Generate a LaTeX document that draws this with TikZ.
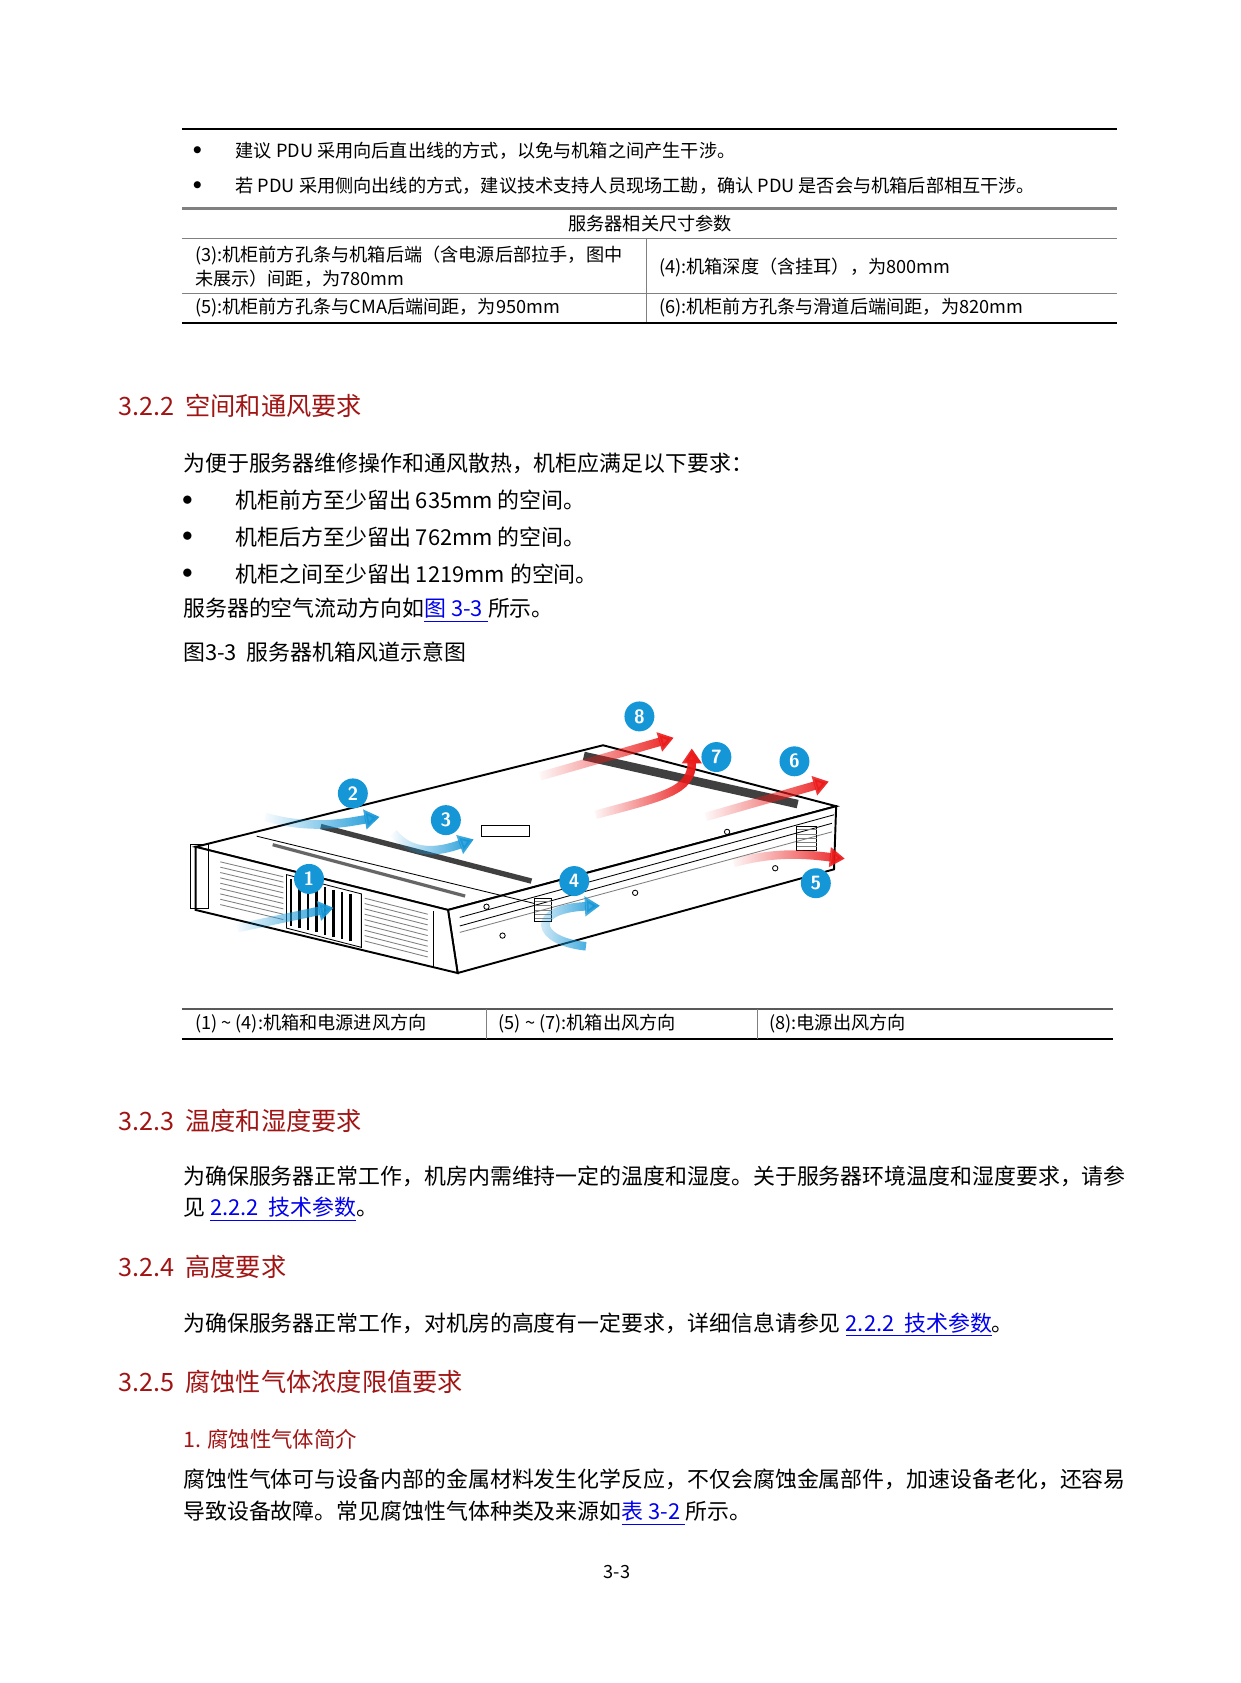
\documentclass[tikz,border=0pt]{standalone}
\usepackage{fontspec}
\setmainfont{Liberation Sans}
\newfontfamily\cjk{Noto Sans CJK SC}
\usetikzlibrary{fadings,arrows.meta,calc}
\definecolor{hred}{RGB}{160,20,20}
\definecolor{lblue}{RGB}{0,0,238}
\definecolor{cb}{RGB}{20,150,215}
\definecolor{ar}{RGB}{235,25,25}
\begin{document}
\begin{tikzpicture}[x=0.5pt,y=-0.5pt,
 t/.style={anchor=west,inner sep=0pt,yshift=-1.5pt,font=\cjk\fontsize{10.25}{12}\selectfont},
 ts/.style={anchor=west,inner sep=0pt,yshift=0.5pt,font=\cjk\fontsize{8.5}{10}\selectfont},
 hd/.style={anchor=west,inner sep=0pt,yshift=-1.5pt,text=hred,font=\cjk\fontsize{11.8}{13}\selectfont},
 num/.style={circle,fill=cb,inner sep=0pt,minimum size=14pt,text=white,font=\sffamily\bfseries\fontsize{9}{9}\selectfont},
 barr/.style={line width=4pt,cb,path fading=west,-{Triangle[length=7pt,width=9pt]}},
 rarr/.style={line width=4pt,ar,path fading=west,-{Triangle[length=7pt,width=9pt]}},
 vent/.style={line width=4pt,black!75}]
\useasboundingbox (0,0) rectangle (1160,1574);
% top table
\draw[line width=1pt] (170,121) -- (1045,121);
\node[ts] (b1) at (180,142) {$\bullet$};
\node[ts] (b1t) at (220,142) {建议 PDU 采用向后直出线的方式，以免与机箱之间产生干涉。};
\node[ts] (b2) at (180,175) {$\bullet$};
\node[ts] (b2t) at (220,175) {若 PDU 采用侧向出线的方式，建议技术支持人员现场工勘，确认 PDU 是否会与机箱后部相互干涉。};
\draw[gray,line width=1pt] (170,195) -- (1045,195);
\node[ts,anchor=center] (tt) at (608,210) {服务器相关尺寸参数};
\draw[gray] (170,223) -- (1045,223);
\draw[gray] (170,274) -- (1045,274);
\draw[gray] (605,223) -- (605,302);
\node[ts] (r1a) at (182,240) {(3):机柜前方孔条与机箱后端（含电源后部拉手，图中};
\node[ts] (r1b) at (182,262) {未展示）间距，为780mm};
\node[ts] (r1c) at (616,251) {(4):机箱深度（含挂耳），为800mm};
\node[ts] (r2a) at (182,289) {(5):机柜前方孔条与CMA后端间距，为950mm};
\node[ts] (r2b) at (616,289) {(6):机柜前方孔条与滑道后端间距，为820mm};
\draw[line width=1pt] (170,302) -- (1045,302);
% 3.2.2
\node[hd] (h1) at (110,377) {3.2.2\ \ 空间和通风要求};
\node[t] (p1) at (171,430) {为便于服务器维修操作和通风散热，机柜应满足以下要求：};
\node[t] (d1) at (170,465) {$\bullet$};
\node[t] (q1) at (220,465) {机柜前方至少留出 635mm 的空间。};
\node[t] (d2) at (170,499) {$\bullet$};
\node[t] (q2) at (220,499) {机柜后方至少留出 762mm 的空间。};
\node[t] (d3) at (170,534) {$\bullet$};
\node[t] (q3) at (220,534) {机柜之间至少留出 1219mm 的空间。};
\node[t] (p2) at (171,568) {服务器的空气流动方向如{\color{lblue}\underline{图 3-3 }}所示。};
\node[t] (cap) at (171,607) {图3-3\ \ 服务器机箱风道示意图};
% server
\coordinate (A) at (183,792); \coordinate (B) at (419,851);
\coordinate (C) at (782,754); \coordinate (D) at (564,697);
\coordinate (Ab) at (183,851); \coordinate (Bb) at (428,910);
\coordinate (Cb) at (780,813);
\draw[fill=white,line width=0.9pt] (A) -- (D) -- (C) -- (B) -- cycle;
\draw[fill=white,line width=0.9pt] (B) -- (C) -- (Cb) -- (Bb) -- cycle;
\draw[fill=white,line width=0.9pt] (A) -- (B) -- (Bb) -- (Ab) -- cycle;
\draw (430,858) -- (780,762);
\draw (430,866) -- (778,770);
\draw[gray] (430,872) -- (778,778);
\draw (178,790) rectangle (195,850);
\draw (405,852) -- (405,905);
\draw[vent] (546,707) -- (746,752);
\draw[vent,line width=2.5pt] (300,773) -- (497,824);
\draw[line width=1.5pt,black!60] (255,790) -- (435,838);
\draw (240,782) -- (500,845);
% grilles
\foreach \i in {0,...,8}{
 \draw[gray] (206,{806+5*\i}) -- (265,{820+5*\i});
 \draw[gray] (341,{840+5*\i}) -- (400,{855+5*\i});}
\foreach \i in {0,...,7}{
 \draw[line width=1.2pt] ({272+8*\i},{822+2*\i}) -- ({272+8*\i},{866+2*\i});}
\draw (268,818) -- (338,836) -- (338,886) -- (268,868) -- cycle;
\draw (745,773) rectangle (764,795);
\foreach \i in {0,...,4}{\draw[gray] (745,{776+4*\i}) -- (764,{776+4*\i});}
\draw (500,840) rectangle (516,862);
\foreach \i in {0,...,4}{\draw[gray] (500,{843+4*\i}) -- (516,{843+4*\i});}
\draw (450,772) rectangle (495,782);
\foreach \p in {(594,835),(725,812),(680,778),(455,848),(470,875),(766,820)}
 \draw \p circle (2.5);
% arrows
\draw[barr] (222,868) -- (312,849);
\draw[barr] (248,764) .. controls (290,776) and (320,770) .. (355,764);
\draw[barr] (368,779) .. controls (385,800) and (410,797) .. (443,785);
\draw[barr] (548,885) .. controls (500,880) and (495,850) .. (561,847);
\draw[rarr] (686,807) .. controls (730,795) and (760,800) .. (790,803);
\draw[rarr] (660,764) -- (775,731);
\draw[rarr] (505,726) -- (630,690);
\draw[rarr] (557,762) .. controls (620,745) and (647,740) .. (647,700);
\node[num] (n1) at (289,822) {1};
\node[num] (n2) at (330,742) {2};
\node[num] (n3) at (417,767) {3};
\node[num] (n4) at (537,824) {4};
\node[num] (n5) at (763,826) {5};
\node[num] (n6) at (743,712) {6};
\node[num] (n7) at (670,708) {7};
\node[num] (n8) at (598,670) {8};
% caption table
\draw[gray!70!black,line width=1pt] (170,944) -- (1041,944);
\draw[line width=1pt] (170,972) -- (1041,972);
\draw[gray] (455,944) -- (455,972);
\draw[gray] (708,944) -- (708,972);
\node[ts] (c1) at (182,958) {(1) \~{} (4):机箱和电源进风方向};
\node[ts] (c2) at (466,958) {(5) \~{} (7):机箱出风方向};
\node[ts] (c3) at (719,958) {(8):电源出风方向};
% 3.2.3
\node[hd] (h2) at (110,1045) {3.2.3\ \ 温度和湿度要求};
\node[t] (p3) at (171,1097) {为确保服务器正常工作，机房内需维持一定的温度和湿度。关于服务器环境温度和湿度要求，请参};
\node[t] (p4) at (171,1128) {见 {\color{lblue}\underline{2.2.2\ \ 技术参数}}。};
\node[hd] (h3) at (110,1182) {3.2.4\ \ 高度要求};
\node[t] (p5) at (171,1236) {为确保服务器正常工作，对机房的高度有一定要求，详细信息请参见 {\color{lblue}\underline{2.2.2\ \ 技术参数}}。};
\node[hd] (h4) at (110,1289) {3.2.5\ \ 腐蚀性气体浓度限值要求};
\node[hd,font=\cjk\fontsize{10}{12}\selectfont] (h5) at (171,1343) {1. 腐蚀性气体简介};
\node[t] (p6) at (171,1381) {腐蚀性气体可与设备内部的金属材料发生化学反应，不仅会腐蚀金属部件，加速设备老化，还容易};
\node[t] (p7) at (171,1412) {导致设备故障。常见腐蚀性气体种类及来源如{\color{lblue}\underline{表 3-2 }}所示。};
\node[ts,anchor=center] (pg) at (577,1471) {3-3};
\end{tikzpicture}
\end{document}
